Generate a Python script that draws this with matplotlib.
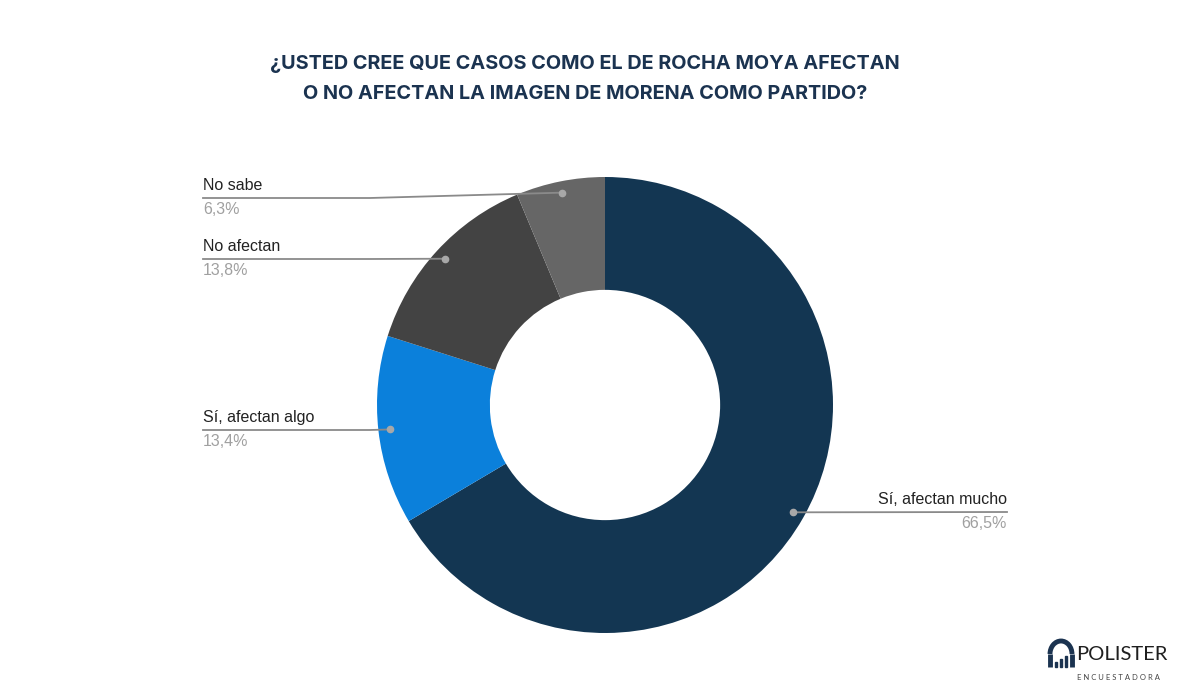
import numpy as np
import matplotlib.pyplot as plt
from matplotlib.patches import Arc, Rectangle

labels = ["Sí, afectan mucho", "Sí, afectan algo", "No afectan", "No sabe"]
values = [66.5, 13.4, 13.8, 6.3]
pct_text = ["66,5%", "13,4%", "13,8%", "6,3%"]
colors = ["#133652", "#0B80DB", "#434343", "#666666"]

title = "¿USTED CREE QUE CASOS COMO EL DE ROCHA MOYA AFECTAN\nO NO AFECTAN LA IMAGEN DE MORENA COMO PARTIDO?"

W, H = 1200, 699
fig = plt.figure(figsize=(12, 6.99), dpi=100)
ax = fig.add_axes([0, 0, 1, 1])
ax.set_xlim(0, W)
ax.set_ylim(0, H)
ax.axis("off")

cx, cy, R = 605, H - 405, 228
wedges, _ = ax.pie(values, colors=colors, startangle=90, counterclock=False,
                   radius=R, center=(cx, cy),
                   wedgeprops=dict(width=R * 0.495, linewidth=0))
ax.set_xlim(0, W)
ax.set_ylim(0, H)
ax.set_aspect("equal")

# label positions (text side, y of leader line in pixels)
label_y = [512, 430, 259, 198]
side = ["right", "left", "left", "left"]

for w, lab, pct, ly, s in zip(wedges, labels, pct_text, label_y, side):
    ang = np.deg2rad((w.theta1 + w.theta2) / 2)
    dx = cx + 0.95 * R * np.cos(ang)
    dy = cy + 0.95 * R * np.sin(ang)
    y = H - ly
    if s == "left":
        xs = [dx, min(dx, 370), 203]
        ax.plot(xs, [dy, y, y], color="#8a8a8a", lw=1.3, zorder=3)
        ax.plot(dx, dy, "o", color="#a8a8a8", ms=4.5, zorder=4)
        ax.text(203, y + 5, lab, ha="left", va="bottom", fontsize=11.5,
                family="Liberation Sans", color="#222222")
        ax.text(203, y - 4, pct, ha="left", va="top", fontsize=11.5,
                family="Liberation Sans", color="#a0a0a0")
    else:
        ax.plot([dx, 1007], [dy, y], color="#8a8a8a", lw=1.3, zorder=3)
        ax.plot(dx, dy, "o", color="#a8a8a8", ms=4.5, zorder=4)
        ax.text(1007, y + 5, lab, ha="right", va="bottom", fontsize=11.5,
                family="Liberation Sans", color="#222222")
        ax.text(1007, y - 4, pct, ha="right", va="top", fontsize=11.5,
                family="Liberation Sans", color="#a0a0a0")

ax.text(585, H - 79, title, ha="center", va="center", fontsize=14.3,
        fontweight="bold", family="Inter", color="#1B3350", linespacing=1.85)

# logo
ax.add_patch(Arc((1061, H - 654), 22, 26, theta1=0, theta2=180, lw=3.5,
                 color="#1B3350"))
ax.plot([1050, 1050], [H - 654, H - 667], color="#1B3350", lw=3.5,
        solid_capstyle="butt")
ax.plot([1072, 1072], [H - 654, H - 667], color="#1B3350", lw=3.5,
        solid_capstyle="butt")
for bx, bh in zip([1056, 1061, 1066], [5, 8, 11]):
    ax.add_patch(Rectangle((bx - 1.2, H - 667), 2.4, bh, color="#1B3350"))
ax.text(1076, H - 655, "POLISTER", ha="left", va="center", fontsize=14.5,
        family="Lato", color="#1f1f1f")
ax.text(1077, H - 677, "E N C U E S T A D O R A", ha="left", va="center",
        fontsize=5.5, family="Lato", color="#444444")

fig.savefig("out.png", dpi=100)
